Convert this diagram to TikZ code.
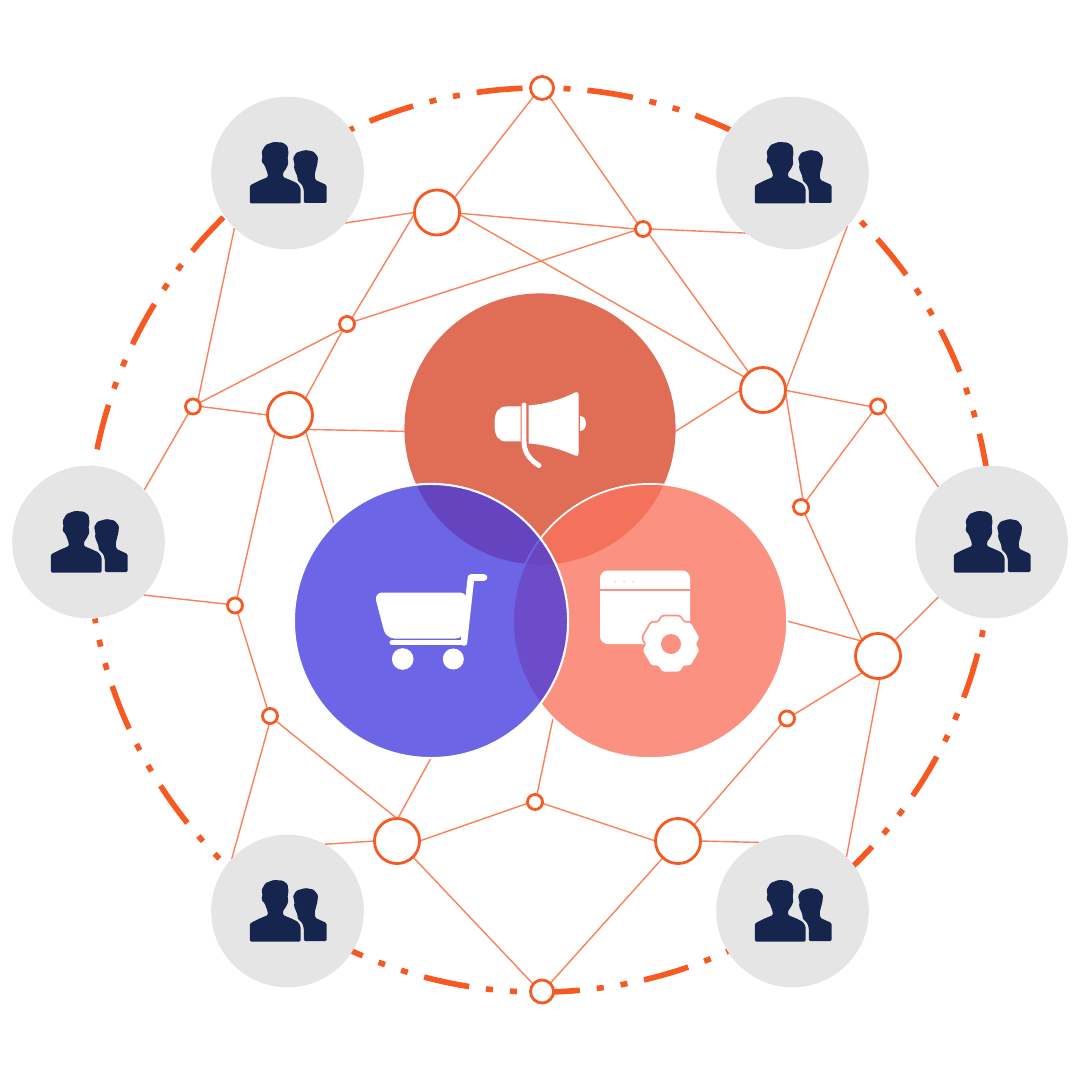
\documentclass[tikz,border=0pt]{standalone}
\usepackage{xcolor}
\usetikzlibrary{backgrounds}
\definecolor{ringCol}{HTML}{F65A22}
\definecolor{linkCol}{HTML}{F9825A}
\definecolor{greyCol}{HTML}{E5E5E5}
\definecolor{navyCol}{HTML}{15254D}
\definecolor{redCol}{HTML}{E06D55}
\definecolor{pinkCol}{HTML}{FA745E}
\definecolor{blueCol}{HTML}{4138DF}
\definecolor{pinkFlat}{HTML}{FB9180}
\def\hubSize{0.45cm}
\def\dotSize{0.15cm}
\def\endSize{0.23cm}
\def\crowdSize{1.525cm}
\def\petalSize{2.71cm}
\tikzset{link/.style={linkCol,line width=0.4pt}}
\tikzset{hub/.style={draw=ringCol,line width=0.8pt,fill=white,circle,minimum size=\hubSize,inner sep=0,outer sep=0}}
\tikzset{dot/.style={draw=ringCol,line width=0.8pt,fill=white,circle,minimum size=\dotSize,inner sep=0,outer sep=0}}
\tikzset{tip/.style={dot,minimum size=\endSize}}
\tikzset{crowd/.style={fill=greyCol,circle,minimum size=\crowdSize,inner sep=0,outer sep=0}}
\tikzset{petal/.style={circle,minimum size=\petalSize,inner sep=0,outer sep=0}}
\tikzset{icon/.style={white,line width=1.4pt,line cap=round}}
\newcommand{\people}[1]{\begin{scope}[shift={(#1)}]
\fill[navyCol,rounded corners=0.35pt] (-37.7,30.5)--(-37.7,12.5)--(-29,8)--(-19.5,4)--(-20,0)--(-23,-8)--(-26,-11)--(-25,-17)--(-26,-21)--(-22,-28)--(-14,-31)--(-5,-30.5)--(0,-27)--(1,-20)--(0,-14)--(1,-10)--(-1,-5)--(-4.5,0)--(-4.5,4)--(5,8)--(10,10.5)--(13,15)--(13,30.5)--cycle;
\fill[navyCol,rounded corners=0.35pt] (16.3,30)--(16.3,17)--(14.7,12)--(10,7.5)--(10,3.7)--(6.5,-4.7)--(7,-9)--(5.5,-15)--(9,-20.5)--(18,-23)--(26,-21.5)--(30.5,-16)--(30,-9.7)--(27,2)--(28,7)--(39,12)--(39,30)--cycle;
\end{scope}}
\newcommand{\gearBit}[1]{\path[#1,rounded corners=0.7pt] (348:29) \foreach\a in {30,90,...,270}{--(\a-30:24.5)--(\a-18:29)--(\a+18:29)}--(300:24.5)--(312:29)--cycle;}
\begin{document}
\begin{tikzpicture}[x=0.01cm,y=-0.01cm]\useasboundingbox (0,0) rectangle (1080,1080);
\node[crowd] (gA) at (287.5,173) {};\node[crowd] (gB) at (792.5,173) {};\node[crowd] (gC) at (88.5,542) {};\node[crowd] (gD) at (991.5,542) {};\node[crowd] (gE) at (287.5,911) {};\node[crowd] (gF) at (792.5,911) {};
\node[petal,fill=redCol] (cR) at (540,429) {};
\node[petal,minimum size=2.74cm,fill=pinkCol,fill opacity=0.79,draw=white,line width=0.5pt] (cS) at (650,621) {};
\node[petal,minimum size=2.74cm,fill=blueCol,fill opacity=0.77,draw=white,line width=0.6pt,draw opacity=1] (cB) at (431,621) {};
\node[tip] (tA) at (542,88) {};\node[tip] (tB) at (542,991.5) {};
\node[hub] (hA) at (437,212.5) {};\node[hub] (hB) at (290,415) {};\node[hub] (hC) at (763,390) {};\node[hub] (hD) at (878,656) {};\node[hub] (hE) at (397,841) {};\node[hub] (hF) at (678,841) {};
\node[dot] (dA) at (643,229) {};\node[dot] (dB) at (347,324) {};\node[dot] (dC) at (193,406.5) {};\node[dot] (dD) at (878,406.5) {};\node[dot] (dE) at (801,507) {};\node[dot] (dF) at (235,605.5) {};\node[dot] (dG) at (270,716) {};\node[dot] (dH) at (787,718.5) {};\node[dot] (dI) at (535,802) {};
\begin{scope}[on background layer]
\fill[white] (0,0) rectangle (1080,1080);
\draw[ringCol,line width=1.6pt,rotate around={-170:(540,540)},dash pattern=on 0.46cm off 0.17cm on 0.07cm off 0.17cm on 0.07cm off 0.17cm,dash phase=0.52cm] (540,540) circle (452);
% top half
\foreach\a/\b in {tA.-135/hA.40,tA.-50/dA.135,hA.180/gA.-41,hA.-2/dA.180,hA.-5/hC.145,hA.183/dB.50,dA.0/gB.-128,dA.190/dB.20,dA.-40/hC.129,dB.-135/dC.30,dB.-125/hB.47,dC.50/gA.-134,dC.0/hB.180,dC.-125/gC.43.5,hB.-40/cR.181,hB.-46/cB.135,hB.-132/dF.75,hC.180/cR.-1,hC.0/gB.-44.5,hC.-1/dD.180,hC.-5/dE.75,dD.-40/gD.134,dD.-135/dE.50}{\draw[link] (\a)--(\b);};
% bottom half
\foreach\a/\b in {dF.170/gC.-44,dF.-70/dG.110,dG.-95/gE.137,dG.-40/hE.90,hE.180/gE.61,hE.88/cB.-90,hE.-45/tB.140,hE.0/dI.190,dI.75/cS.-135,dI.-10/hF.180,hF.-132/tB.45,hF.45/dH.-135,hF.0/gF.116,dH.30/hD.-133,hD.138/cS.0,hD.43/gD.-134,hD.-85/gF.45,hD.135/dE.-60}{\draw[link] (\a)--(\b);};
\end{scope}
\foreach\a in {gA,gB,gC,gD,gE,gF}{\people{\a};};
% megaphone
\fill[white] (520.5,406.5)--(507,406.5) .. controls (498,406.5) and (494.5,412) .. (494.5,424) .. controls (494.5,436) and (498,441.5) .. (507,441.5)--(520.5,441.5)--cycle;
\fill[white] (528.5,405.5) .. controls (545,404) and (560,400) .. (575,392.5) .. controls (577,391.5) and (578.5,392.5) .. (578.5,394)--(578.5,454) .. controls (578.5,456) and (577,456.5) .. (575,455.5) .. controls (560,449) and (545,444.5) .. (528.5,443.5)--cycle;
\fill[white] (580,416) .. controls (584,416) and (586,420) .. (586,423.5) .. controls (586,427) and (584,431) .. (580,431)--cycle;
\draw[icon] (524,405)--(524,442) .. controls (524,452) and (530,460) .. (539,465.5);
% cart
\fill[white,rounded corners=2.4pt] (374,592.5)--(468,592.5)--(464,638.5)--(386,638.5)--cycle;
\draw[icon,line width=1.9pt,line join=round] (484,577.5)--(471,577.5)--(464,641)--(464,642.5);
\draw[icon,line width=1.4pt] (392,642.8)--(464,642.8);
\fill[white] (402.7,659) circle (10.8);\fill[white] (453.3,659) circle (10.5);
% window and gear
\fill[white,rounded corners=2.2pt] (600,570.5) rectangle (690,644);
\draw[pinkFlat,line width=0.3pt] (600,590)--(690,590);
\foreach\a in {615,624,633}{\fill[pinkFlat!50] (\a,581.5) circle (1);};
\begin{scope}[shift={(671,644)}]
\gearBit{draw=pinkFlat,fill=pinkFlat,line width=1pt}
\gearBit{fill=white}
\fill[pinkFlat] (0,0) circle (10);
\end{scope}
\end{tikzpicture}
\end{document}
